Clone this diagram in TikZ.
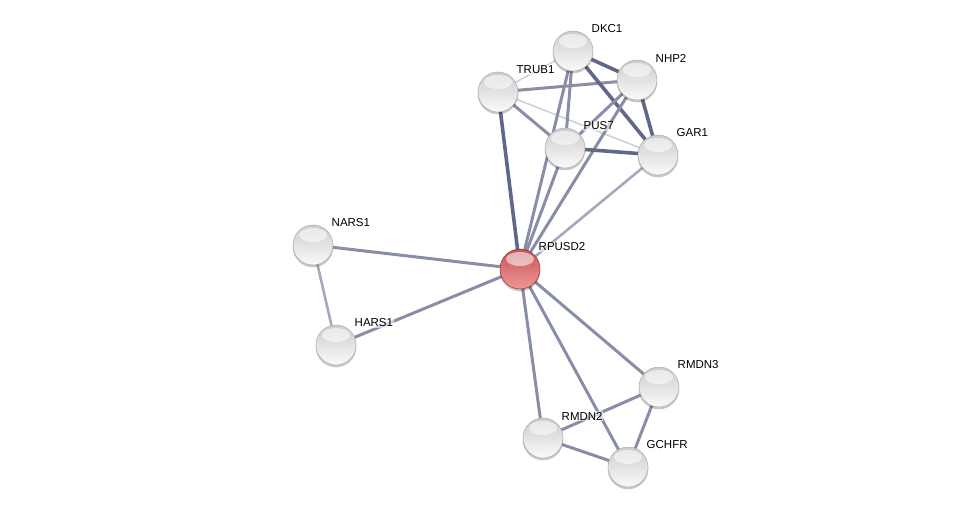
\documentclass[tikz,border=0pt]{standalone}
\usepackage{fontspec}
\setmainfont{Liberation Sans}
\usetikzlibrary{calc}
\definecolor{cdark}{RGB}{96,103,136}
\definecolor{cmid}{RGB}{136,142,168}
\definecolor{clight}{RGB}{164,170,190}
\definecolor{cthin}{RGB}{206,209,220}
\definecolor{redtop}{RGB}{196,84,86}
\definecolor{redbot}{RGB}{242,150,150}
\definecolor{redrim}{RGB}{150,50,55}
\begin{document}
\begin{tikzpicture}[x=1pt,y=-1pt,
  sph/.style={circle,minimum size=40pt,inner sep=0pt,draw=gray!65,line width=0.5pt,
    top color=gray!40,bottom color=gray!4,
    path picture={\fill[white,opacity=0.55] ([yshift=10pt]path picture bounding box.center) ellipse [x radius=14pt,y radius=7pt];}},
  prot/.style={sph},
  query/.style={sph,draw=redrim,top color=redtop,bottom color=redbot},
  lbl/.style={anchor=west,inner sep=0.5pt,font=\fontsize{11.5}{13}\selectfont},
  edark/.style={draw=cdark,line width=3.6pt},
  emid/.style={draw=cmid,line width=3pt},
  elight/.style={draw=clight,line width=2.6pt},
  ethin/.style={draw=cthin,line width=1.6pt}]
\useasboundingbox (0,0) rectangle (976,513);
% coordinates
\coordinate (cDKC1) at (573,51);
\coordinate (cNHP2) at (637,80);
\coordinate (cTRUB1) at (498,92);
\coordinate (cPUS7) at (565,148);
\coordinate (cGAR1) at (658,155);
\coordinate (cNARS1) at (313,245);
\coordinate (cRPUSD2) at (520,269);
\coordinate (cHARS1) at (336,345);
\coordinate (cRMDN3) at (659,387);
\coordinate (cRMDN2) at (543,438);
\coordinate (cGCHFR) at (628,467);
% edges
\draw[ethin] (cDKC1) -- (cTRUB1);
\draw[ethin] (cTRUB1) -- (cGAR1);
\draw[emid] (cTRUB1) -- (cNHP2);
\draw[emid] (cTRUB1) -- (cPUS7);
\draw[edark] (cTRUB1) -- (cRPUSD2);
\draw[edark] (cDKC1) -- (cNHP2);
\draw[edark] (cDKC1) -- (cGAR1);
\draw[edark] (cNHP2) -- (cGAR1);
\draw[emid] (cDKC1) -- (cPUS7);
\draw[emid] (cDKC1) -- (cRPUSD2);
\draw[emid] (cNHP2) -- (cPUS7);
\draw[emid] (cNHP2) -- (cRPUSD2);
\draw[edark] (cPUS7) -- (cGAR1);
\draw[emid] (cPUS7) -- (cRPUSD2);
\draw[elight] (cGAR1) -- (cRPUSD2);
\draw[emid] (cNARS1) -- (cRPUSD2);
\draw[emid] (cHARS1) -- (cRPUSD2);
\draw[elight] (cNARS1) -- (cHARS1);
\draw[emid] (cRPUSD2) -- (cRMDN3);
\draw[emid] (cRPUSD2) -- (cRMDN2);
\draw[emid] (cRPUSD2) -- (cGCHFR);
\draw[emid] (cRMDN3) -- (cRMDN2);
\draw[emid] (cRMDN3) -- (cGCHFR);
\draw[emid] (cRMDN2) -- (cGCHFR);
% shadows
\foreach \c in {cDKC1,cNHP2,cTRUB1,cPUS7,cGAR1,cNARS1,cRPUSD2,cHARS1,cRMDN3,cRMDN2,cGCHFR}
  \fill[black,opacity=0.22] ($(\c)+(0,2)$) circle (20.3);
% nodes
\node[prot] (DKC1) at (cDKC1) {};
\node[prot] (NHP2) at (cNHP2) {};
\node[prot] (TRUB1) at (cTRUB1) {};
\node[prot] (PUS7) at (cPUS7) {};
\node[prot] (GAR1) at (cGAR1) {};
\node[prot] (NARS1) at (cNARS1) {};
\node[query] (RPUSD2) at (cRPUSD2) {};
\node[prot] (HARS1) at (cHARS1) {};
\node[prot] (RMDN3) at (cRMDN3) {};
\node[prot] (RMDN2) at (cRMDN2) {};
\node[prot] (GCHFR) at (cGCHFR) {};
% labels
\foreach \n in {DKC1,NHP2,TRUB1,PUS7,GAR1,NARS1,RPUSD2,HARS1,RMDN3,RMDN2,GCHFR}
  \node[lbl,fill=white,fill opacity=0.6,text opacity=1] (l\n) at ($(c\n)+(18,-22)$) {\n};
\end{tikzpicture}
\end{document}
